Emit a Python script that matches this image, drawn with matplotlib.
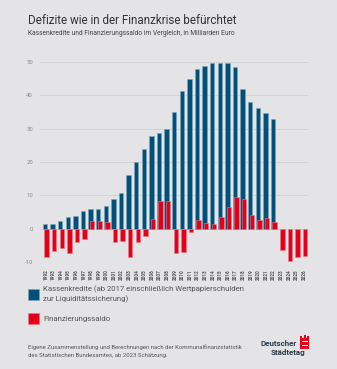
import matplotlib; matplotlib.use("Agg")
import matplotlib.pyplot as plt
from matplotlib.patches import Rectangle

BG = "#e4e4e6"; BLUE = "#005078"; RED = "#e2001a"; GRID = "#d2d2d4"; TXT = "#444444"; LOGO = "#2b3a4e"
FONT = ["Roboto", "DejaVu Sans"]

years = list(range(1992, 2027))
kassenkredite = [1.3, 1.5, 2.3, 3.4, 3.8, 5.2, 5.8, 6.0, 6.9, 9.0, 10.7, 16.0, 19.9, 23.9, 27.9, 28.8,
                 29.9, 35.0, 41.2, 45.0, 48.0, 48.7, 49.8, 49.7, 49.7, 48.4, 41.8, 38.1, 36.2, 34.6, 32.8]
saldo = [-8.4, -6.6, -5.9, -7.4, -4.1, -3.0, 2.2, 2.2, 2.0, -4.1, -3.7, -8.4, -3.9, -2.2, 2.8, 8.2,
         8.3, -7.4, -6.9, -0.9, 2.6, 1.6, 1.3, 3.5, 6.5, 9.4, 8.8, 4.1, 2.7, 3.1, 2.1,
         -6.4, -9.6, -8.6, -8.2]
yticks = [-10, 0, 10, 20, 30, 40, 50]

fig = plt.figure(figsize=(3.37, 3.69), dpi=100, facecolor=BG)
ax = fig.add_axes([40/337, 1-262/369, 268/337, 200/369], facecolor=BG)

x = list(range(len(years)))
xb = [i - 0.1 for i in x[:len(kassenkredite)]]
xr = [i + 0.12 for i in x]
ax.bar(xb, kassenkredite, width=0.58, color=BLUE, edgecolor="#7fa6bd", linewidth=0.4, zorder=2)
ax.bar(xr, saldo, width=0.58, color=RED, edgecolor="#f07a88", linewidth=0.4, zorder=3)

ax.set_xlim(-0.75, 34.5)
ax.set_ylim(-10, 50)
ax.set_yticks(yticks)
ax.set_yticklabels([str(v) for v in yticks], fontsize=4.3, color="#8a8a8a", family=FONT)
ax.yaxis.grid(True, color=GRID, lw=0.7, zorder=0)
ax.tick_params(axis="y", length=0, pad=5)
ax.set_xticks(x)
ax.set_xticklabels([str(y) for y in years], rotation=90, fontsize=3.3, color="#555555",
                   family=FONT, fontweight="bold")
ax.tick_params(axis="x", length=0, pad=5)
for s in ax.spines.values():
    s.set_visible(False)

def t(px, py, s, fs, c=TXT, w="normal", ha="left", va="center"):
    fig.text(px/337, 1-py/369, s, fontsize=fs, color=c, fontweight=w, ha=ha, va=va, family=FONT)

t(28, 21, "Defizite wie in der Finanzkrise befürchtet", 8.4, c="#333333")
t(28, 33.5, "Kassenkredite und Finanzierungssaldo im Vergleich, in Milliarden Euro", 4.8, c="#444444")

fig.patches.append(Rectangle((28/337, 1-300/369), 11/337, 11/369, transform=fig.transFigure,
                             fc=BLUE, ec="#7fa6bd", lw=0.4))
fig.patches.append(Rectangle((28/337, 1-324/369), 11/337, 11/369, transform=fig.transFigure,
                             fc=RED, ec="#f07a88", lw=0.4))
t(43, 289.5, "Kassenkredite (ab 2017 einschließlich Wertpapierschulden", 5.6, c="#555555")
t(43, 299.5, "zur Liquiditätssicherung)", 5.6, c="#555555")
t(43, 318.5, "Finanzierungssaldo", 5.6, c="#555555")

t(28, 347, "Eigene Zusammenstellung und Berechnungen nach der Kommunalfinanzstatistik", 4.3, c="#555555")
t(28, 355, "des Statistischen Bundesamtes, ab 2023 Schätzung.", 4.3, c="#555555")

t(297, 343, "Deutscher", 5.8, c=LOGO, w="bold", ha="right")
t(305, 352.5, "Städtetag", 5.8, c=LOGO, w="bold", ha="right")
# small red castle mark
for (rx, ry, rw, rh) in [(300, 338, 9, 11), (300, 336, 2, 3), (303.5, 335, 2, 4), (307, 336, 2, 3)]:
    fig.patches.append(Rectangle((rx/337, 1-(ry+rh)/369), rw/337, rh/369, transform=fig.transFigure,
                                 fc=RED, ec="none"))
for (rx, ry, rw, rh) in [(301.5, 341, 6, 1), (301.5, 344.5, 6, 1)]:
    fig.patches.append(Rectangle((rx/337, 1-(ry+rh)/369), rw/337, rh/369, transform=fig.transFigure,
                                 fc="white", ec="none"))

fig.savefig("out.png", dpi=100, facecolor=BG)
